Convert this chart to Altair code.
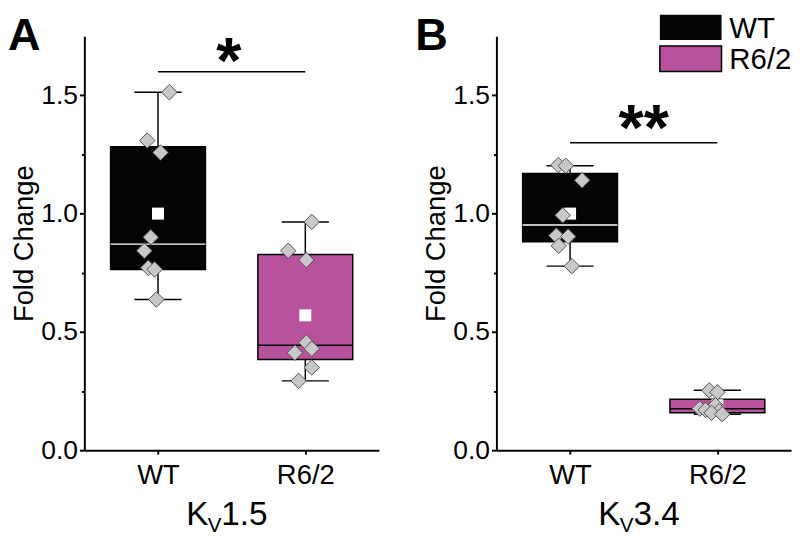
import altair as alt
import pandas as pd

groups = ["WT", "R6/2"]
group_pos = [1, 2]
y_ticks = [0, 0.25, 0.5, 0.75, 1.0, 1.25, 1.5]

# Panel A - Kv1.5
a_wt_vals = [1.513, 1.309, 1.258, 0.900, 0.843, 0.771, 0.764, 0.637]
a_wt_jit = [0.077, -0.073, 0.017, -0.049, -0.093, -0.066, -0.023, -0.011]
a_r62_vals = [0.965, 0.843, 0.804, 0.455, 0.429, 0.412, 0.350, 0.293]
a_r62_jit = [0.044, -0.116, 0.007, 0.007, 0.044, -0.071, 0.044, -0.045]
a_q1 = [0.764, 0.383]
a_q3 = [1.283, 0.827]
a_med = [0.871, 0.444]
a_mean = [1.000, 0.570]
a_lo = [0.637, 0.293]
a_hi = [1.513, 0.965]
a_sig = 1.60
a_star = "*"

# Panel B - Kv3.4
b_wt_vals = [1.205, 1.202, 1.141, 0.993, 0.907, 0.903, 0.864, 0.778]
b_wt_jit = [-0.080, -0.029, 0.082, -0.050, -0.093, -0.013, -0.077, 0.012]
b_r62_vals = [0.253, 0.245, 0.190, 0.176, 0.170, 0.165, 0.158, 0.152]
b_r62_jit = [-0.055, 0.000, -0.013, -0.120, -0.080, 0.013, -0.040, 0.033]
b_q1 = [0.881, 0.158]
b_q3 = [1.170, 0.215]
b_med = [0.952, 0.175]
b_mean = [1.000, 0.190]
b_lo = [0.778, 0.152]
b_hi = [1.202, 0.253]
b_sig = 1.30
b_star = "**"

W, H = 301, 423
FONT = "Liberation Sans"
BOX_HALF = 0.322
CAP_HALF = 0.16
PINK = "#B8529C"
BLACK = "#050505"

xscale = alt.Scale(domain=[0.5, 2.5], nice=False, zero=False)
yscale = alt.Scale(domain=[0, 1.75], nice=False, zero=True)

x_axis = alt.Axis(values=[1, 2], labelExpr="datum.value == 1 ? 'WT' : 'R6/2'",
                  tickSize=4, labelPadding=8, labelFontSize=28, labelFlush=False)
y_axis = alt.Axis(values=y_ticks,
                  labelExpr="datum.value % 0.5 == 0 ? format(datum.value, '.1f') : ''",
                  tickSize={"condition": {"test": "datum.value % 0.5 == 0", "value": 5}, "value": 3},
                  labelPadding=2, labelFontSize=27, labelOverlap=False,
                  titleFontSize=28, titlePadding=2)


def X(f):
    return alt.X(f, scale=xscale, axis=x_axis, title=None)


def Y(f):
    return alt.Y(f, scale=yscale, axis=y_axis, title="Fold Change")


def one(**kw):
    return alt.Chart(pd.DataFrame({k: [v] for k, v in kw.items()}))


def panel(letter, letter_x, chan, num, wt_vals, wt_jit, r_vals, r_jit,
          q1, q3, med, mean, lo, hi, sig, star, star_dy, star_dx, legend=False):
    pts = pd.DataFrame({
        "group": ["WT"] * len(wt_vals) + ["R6/2"] * len(r_vals),
        "pos": [1] * len(wt_vals) + [2] * len(r_vals),
        "val": wt_vals + r_vals,
        "jit": wt_jit + r_jit,
    })
    box_df = pd.DataFrame({"group": groups, "pos": group_pos, "q1": q1, "q3": q3,
                           "med": med, "mean": mean, "lo": lo, "hi": hi})
    base = alt.Chart(box_df).transform_calculate(
        xl=f"datum.pos - {BOX_HALF}", xr=f"datum.pos + {BOX_HALF}",
        cl=f"datum.pos - {CAP_HALF}", cr=f"datum.pos + {CAP_HALF}")

    whisk = base.mark_rule(color="black", strokeWidth=1.5).encode(
        x=X("pos:Q"), y=Y("lo:Q"), y2="hi:Q")
    caps = base.transform_fold(["lo", "hi"], as_=["k", "v"]).mark_rule(
        color="black", strokeWidth=1.5).encode(x=X("cl:Q"), x2="cr:Q", y=Y("v:Q"))
    box = base.mark_rect(stroke="black", strokeWidth=1.5).encode(
        x=X("xl:Q"), x2="xr:Q", y=Y("q1:Q"), y2="q3:Q",
        fill=alt.Fill("group:N", scale=alt.Scale(domain=groups, range=[BLACK, PINK]), legend=None))
    median = base.mark_rule(strokeWidth=1.5).encode(
        x=X("xl:Q"), x2="xr:Q", y=Y("med:Q"),
        stroke=alt.Stroke("group:N", scale=alt.Scale(domain=groups, range=["white", "black"]), legend=None))
    meanm = base.mark_square(size=150, color="white", opacity=1).encode(
        x=X("pos:Q"), y=Y("mean:Q"))
    points = alt.Chart(pts).transform_calculate(xp="datum.pos + datum.jit").mark_point(
        shape="diamond", filled=True, fill="#C8C8C8", stroke="#505050", strokeWidth=1,
        size=250, opacity=1).encode(x=X("xp:Q"), y=Y("val:Q"))

    sig_df = one(x1=1, x2=2, xm=1.5, y=sig, s=star)
    sig_rule = sig_df.mark_rule(color="black", strokeWidth=1.5).encode(
        x=X("x1:Q"), x2="x2:Q", y=Y("y:Q"))
    sig_text = sig_df.mark_text(fontSize=66, fontWeight="bold", font=FONT, baseline="alphabetic",
                                dy=star_dy, dx=star_dx, color="black").encode(
        x=X("xm:Q"), y=Y("y:Q"), text="s:N")

    let = one(t=letter).mark_text(fontSize=46, fontWeight="bold", font=FONT, align="left",
                                  baseline="top", color="black").encode(
        x=alt.value(letter_x), y=alt.value(-22), text="t:N")
    k1 = one(t=chan).mark_text(fontSize=34, font=FONT, align="left", baseline="alphabetic",
                               color="black").encode(x=alt.value(104), y=alt.value(499), text="t:N")
    k2 = one(t="V").mark_text(fontSize=21, font=FONT, align="left", baseline="alphabetic",
                              color="black").encode(x=alt.value(126), y=alt.value(507), text="t:N")
    k3 = one(t=num).mark_text(fontSize=34, font=FONT, align="left", baseline="alphabetic",
                              color="black").encode(x=alt.value(140), y=alt.value(499), text="t:N")

    layers = [whisk, caps, box, median, meanm, points, sig_rule, sig_text, let, k1, k2, k3]
    if legend:
        lg1 = one(a=0).mark_rect(fill=BLACK).encode(
            x=alt.value(167), x2=alt.value(230), y=alt.value(-22), y2=alt.value(4))
        lg2 = one(a=0).mark_rect(fill=PINK, stroke="black", strokeWidth=1.5).encode(
            x=alt.value(167), x2=alt.value(230), y=alt.value(10), y2=alt.value(36))
        lt1 = one(t="WT").mark_text(fontSize=30, font=FONT, align="left", baseline="middle",
                                    color="black").encode(x=alt.value(238), y=alt.value(-7), text="t:N")
        lt2 = one(t="R6/2").mark_text(fontSize=30, font=FONT, align="left", baseline="middle",
                                      color="black").encode(x=alt.value(238), y=alt.value(25), text="t:N")
        layers += [lg1, lg2, lt1, lt2]
    return alt.layer(*layers).properties(width=W, height=H)


pa = panel("A", -78, "K", "1.5", a_wt_vals, a_wt_jit, a_r62_vals, a_r62_jit,
           a_q1, a_q3, a_med, a_mean, a_lo, a_hi, a_sig, a_star, 12, -3)
pb = panel("B", -83, "K", "3.4", b_wt_vals, b_wt_jit, b_r62_vals, b_r62_jit,
           b_q1, b_q3, b_med, b_mean, b_lo, b_hi, b_sig, b_star, 8, 0, legend=True)

chart = alt.hconcat(pa, pb, spacing=120, bounds="flush").properties(
    padding=0, background="white"
).configure_view(stroke=None).configure_axis(
    domainColor="black", domainWidth=2, tickColor="black", tickWidth=2,
    labelColor="black", labelFont=FONT, titleFont=FONT, titleColor="black",
    titleFontWeight="normal", grid=False
)

chart.save("out.html", embed_options={"renderer": "svg", "actions": False})
